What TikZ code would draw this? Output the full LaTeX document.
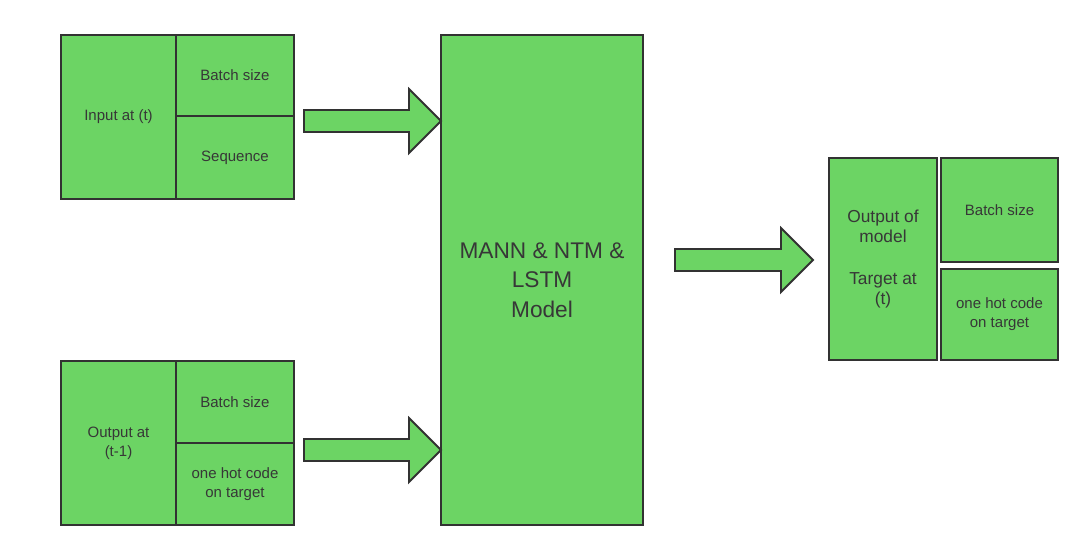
\documentclass[tikz,border=0pt]{standalone}
\usepackage{fontspec}
\setmainfont{Liberation Sans}
\usepackage{tikz}
\usetikzlibrary{calc}

\definecolor{cellgreen}{RGB}{108,212,100}
\definecolor{edgegray}{RGB}{50,50,50}
\definecolor{textgray}{RGB}{55,55,55}

\tikzset{
    cell/.style={draw=edgegray, fill=cellgreen, line width=1.4pt, anchor=north west,
        align=center, text=textgray, inner sep=2pt, outer sep=0pt,
        font=\fontsize{11.25}{14.25}\selectfont},
    blockarrow/.style={draw=edgegray, fill=cellgreen, line width=1.4pt, line join=miter}
}

% block arrow from a start point to a tip
\newcommand{\fatarrow}[2]{
    \draw[blockarrow] ($(#1)+(0,-11)$) -- ($(#2)+(-32,-11)$) -- ($(#2)+(-32,-32)$)
        -- (#2) -- ($(#2)+(-32,32)$) -- ($(#2)+(-32,11)$) -- ($(#1)+(0,11)$) -- cycle;
}

\begin{document}
\begin{tikzpicture}[x=0.75pt, y=-0.75pt]
        \useasboundingbox (0,0) rectangle (1089,547);

        % input block
        \node[cell, minimum width=86.25pt, minimum height=123pt] (inLabel) at (61,35) {Input at (t)};
        \node[cell, minimum width=88.5pt, minimum height=60.75pt] (inBatch) at (176,35) {Batch size};
        \node[cell, minimum width=88.5pt, minimum height=62.25pt] (inSeq) at (176,116) {Sequence};

        % previous output block
        \node[cell, minimum width=86.25pt, minimum height=123pt] (outLabel) at (61,361) {Output at\\(t-1)};
        \node[cell, minimum width=88.5pt, minimum height=61.5pt] (outBatch) at (176,361) {Batch size};
        \node[cell, minimum width=88.5pt, minimum height=61.5pt] (outHot) at (176,443) {one hot code\\on target};

        % model
        \node[cell, minimum width=151.5pt, minimum height=367.5pt,
            font=\fontsize{17}{22}\selectfont] (model) at (441,35) {MANN \& NTM \&\\LSTM\\Model};

        % target block
        \node[cell, minimum width=81pt, minimum height=151.5pt,
            font=\fontsize{13}{15}\selectfont] (tgtLabel) at (829,158) {Output of\\model\\[16pt]Target at\\(t)};
        \node[cell, minimum width=87.75pt, minimum height=78pt] (tgtBatch) at (941,158) {Batch size};
        \node[cell, minimum width=87.75pt, minimum height=68.25pt] (tgtHot) at (941,269) {one hot code\\on target};

        % arrows
        \coordinate (inStart) at (304,121);
        \coordinate (outStart) at (304,450);
        \coordinate (modStart) at (675,260);
        \coordinate (modTip) at (813,260);

        \fatarrow{inStart}{model.west |- inStart}
        \fatarrow{outStart}{model.west |- outStart}
        \fatarrow{modStart}{modTip}

    \end{tikzpicture}
\end{document}
